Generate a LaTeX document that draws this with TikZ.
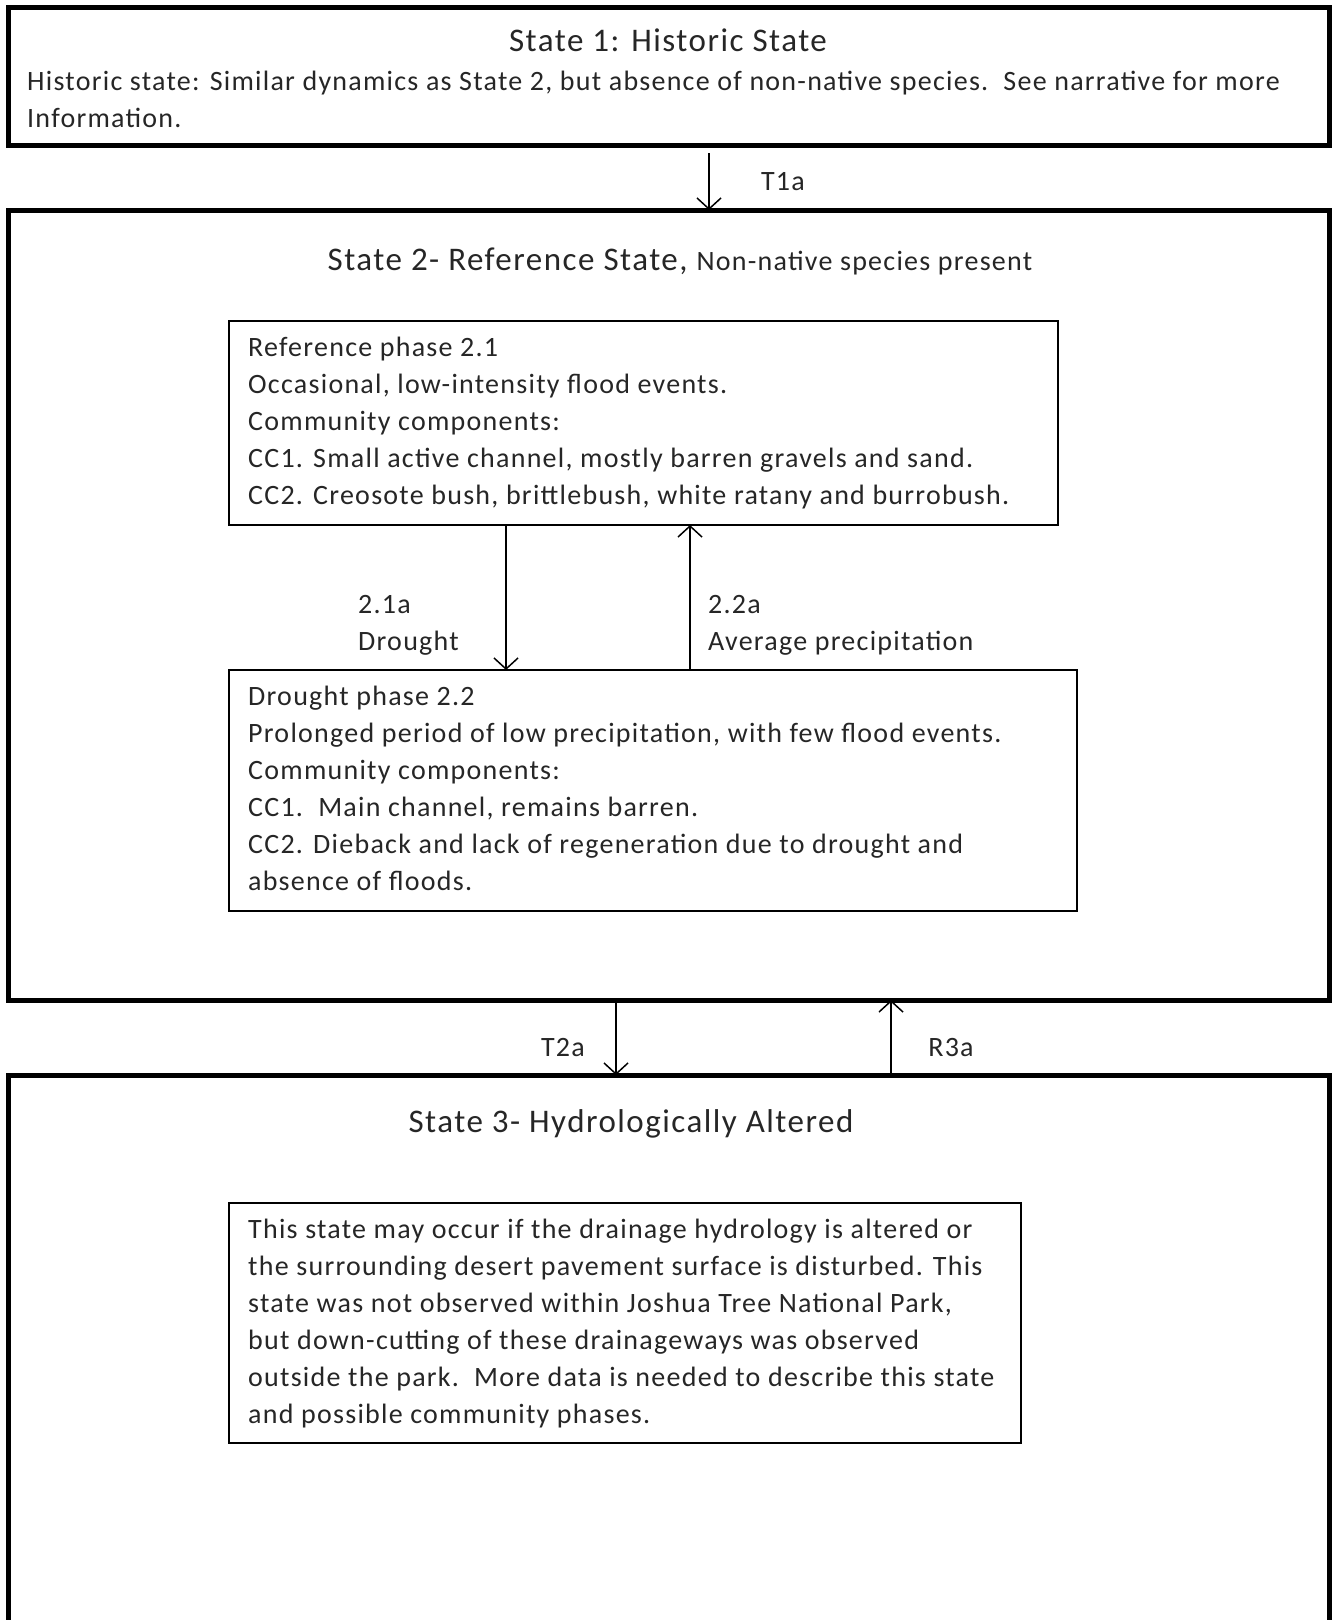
\documentclass[tikz,border=0pt]{standalone}
\usepackage{fontspec}
\setmainfont{Carlito}[LetterSpace=4.5]
\usetikzlibrary{arrows.meta}
\begin{document}
\begin{tikzpicture}[x=1pt,y=-1pt,
  statebox/.style={draw, line width=5pt, rectangle, inner sep=0, outer sep=0, anchor=north west},
  phasebox/.style={draw, line width=1.6pt, rectangle, inner sep=0, outer sep=0, anchor=north west},
  body/.style={font=\fontsize{28}{37}\selectfont, align=left, inner sep=0, anchor=north west, text=black!85},
  ttl/.style={font=\fontsize{33}{38}\selectfont, inner sep=0, text=black!85},
  lbl/.style={font=\fontsize{28}{32}\selectfont, inner sep=0, text=black!85},
  arr/.style={line width=1.5pt, -{Straight Barb[length=11pt,width=24pt,line width=1.5pt]}}
]
\useasboundingbox (0,0) rectangle (1337,1620);
\clip (0,0) rectangle (1337,1620);
\fill[white] (0,0) rectangle (1337,1620);

% state boxes
\node[statebox, minimum width=1321pt, minimum height=138pt] (s1) at (8,7) {};
\node[statebox, minimum width=1321pt, minimum height=790pt] (s2) at (8,210) {};
\node[statebox, minimum width=1321pt, minimum height=700pt] (s3) at (8,1075) {};

% phase boxes
\node[phasebox, minimum width=829pt, minimum height=204pt] (p21) at (229,321) {};
\node[phasebox, minimum width=848pt, minimum height=241pt] (p22) at (229,670) {};
\node[phasebox, minimum width=792pt, minimum height=240pt] (p3) at (229,1203) {};

% state 1 text
\node[ttl] (s1t) at (668,40) {State 1: Historic State};
\node[body] (s1b) at (27,64) {\strut Historic state: Similar dynamics as State 2, but absence of non-native species.\ \ See narrative for more\\Information.};

% state 2 text
\node[ttl] (s2t) at (680,261) {State 2- Reference State, {\fontsize{28}{30}\selectfont Non-native species present}};
\node[body] (p21b) at (248,330) {\strut Reference phase 2.1\\Occasional, low-intensity flood events.\\Community components:\\CC1. Small active channel, mostly barren gravels and sand.\\CC2. Creosote bush, brittlebush, white ratany and burrobush.};
\node[body] (p22b) at (248,679) {\strut Drought phase 2.2\\Prolonged period of low precipitation, with few flood events.\\Community components:\\CC1.\ \ Main channel, remains barren.\\CC2. Dieback and lack of regeneration due to drought and\\absence of floods.};

% state 3 text
\node[ttl] (s3t) at (631,1124) {State 3- Hydrologically Altered};
\node[body] (p3b) at (248,1212) {\strut This state may occur if the drainage hydrology is altered or\\the surrounding desert pavement surface is disturbed. This\\state was not observed within Joshua Tree National Park,\\but down-cutting of these drainageways was observed\\outside the park.\ \ More data is needed to describe this state\\and possible community phases.};

% connectors
\draw[arr, shorten <=8pt] (709,0 |- s1.south) -- (709,0 |- s2.north);
\node[lbl] (t1a) at (783,182) {T1a};

\draw[arr] (506,0 |- p21.south) -- (506,0 |- p22.north);
\draw[arr] (690,0 |- p22.north) -- (690,0 |- p21.south);
\node[body] (l21a) at (358,587) {\strut 2.1a\\Drought};
\node[body] (l22a) at (708,587) {\strut 2.2a\\Average precipitation};

\draw[arr] (616,0 |- s2.south) -- (616,0 |- s3.north);
\draw[arr] (891,0 |- s3.north) -- (891,0 |- s2.south);
\node[lbl] (t2a) at (563,1048) {T2a};
\node[lbl] (r3a) at (951,1048) {R3a};
\end{tikzpicture}
\end{document}
